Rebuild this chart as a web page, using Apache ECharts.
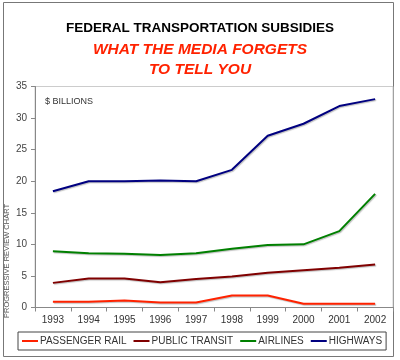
<!DOCTYPE html>
<html><head><meta charset="utf-8">
<script src="https://cdn.jsdelivr.net/npm/echarts@6/dist/echarts.min.js"></script>
<style>html,body{margin:0;padding:0;background:#fff}#c{width:400px;height:360px}</style>
</head><body><div id="c"></div>
<script>
const years = ['1993','1994','1995','1996','1997','1998','1999','2000','2001','2002'];
const passengerRail = [0.9,0.9,1.1,0.8,0.8,1.9,1.9,0.6,0.6,0.6];
const publicTransit = [3.9,4.6,4.6,4.0,4.5,4.9,5.5,5.9,6.3,6.8];
const airlines = [8.9,8.6,8.5,8.3,8.6,9.3,9.9,10.0,12.1,18.0];
const highways = [18.4,20.0,20.0,20.1,20.0,21.8,27.2,29.1,31.9,33.0];
const yTicks = [0,5,10,15,20,25,30,35];

const chart = echarts.init(document.getElementById('c'));
function ser(name, data, color){
  return {name, type:'line', data, symbol:'none', smooth:false,
    lineStyle:{color, width:2, shadowColor:'rgba(0,0,0,0.25)', shadowBlur:1, shadowOffsetX:1, shadowOffsetY:1},
    itemStyle:{color}};
}
chart.setOption({
  animation:false,
  backgroundColor:'#fff',
  title:[
    {text:'FEDERAL TRANSPORTATION SUBSIDIES', left:'center', top:16,
     textStyle:{fontFamily:'Liberation Sans', fontSize:13.5, fontWeight:'bold', color:'#000'}},
    {text:'WHAT THE MEDIA FORGETS\nTO TELL YOU', left:'center', top:35,
     textStyle:{fontFamily:'Liberation Sans', fontSize:15.5, fontWeight:'bold', fontStyle:'italic', color:'#ff2200', lineHeight:20}},
    {text:'$ BILLIONS', left:40, top:92,
     textStyle:{fontFamily:'Liberation Sans', fontSize:9, fontWeight:'normal', color:'#333'}}
  ],
  graphic:[
    {type:'rect', shape:{x:3.5,y:2.5,width:390,height:354}, style:{fill:'none', stroke:'#777', lineWidth:1}, z:-1},
    {type:'text', x:7, y:318, rotation:Math.PI/2,
     style:{text:'PROGRESSIVE REVIEW CHART', fill:'#555', font:'7.5px Liberation Sans', textAlign:'left', textVerticalAlign:'middle'}}
  ],
  legend:{
    data:['PASSENGER RAIL','PUBLIC TRANSIT','AIRLINES','HIGHWAYS'],
    left:18, top:332,
    itemWidth:16, itemHeight:2, itemGap:7,
    icon:'rect',
    borderColor:'#444', borderWidth:1, padding:[4,4,4,4],
    textStyle:{fontFamily:'Liberation Sans', fontSize:10, color:'#333', padding:[0,0,0,-3]}
  },
  grid:{left:35, right:7, top:86.5, bottom:52.5, show:true, borderColor:'#ccc', borderWidth:1},
  xAxis:{type:'category', data:years, boundaryGap:true,
    axisLine:{lineStyle:{color:'#888'}},
    axisTick:{show:true, lineStyle:{color:'#888'}, length:4},
    axisLabel:{fontFamily:'Liberation Sans', fontSize:10, color:'#333', margin:8},
    splitLine:{show:false}},
  yAxis:{type:'value', min:0, max:35, interval:5,
    axisLine:{show:true, lineStyle:{color:'#888'}},
    axisTick:{show:true, lineStyle:{color:'#888'}, length:4},
    axisLabel:{fontFamily:'Liberation Sans', fontSize:10, color:'#444', margin:8,
      formatter:v=>yTicks.includes(v)?String(v):''},
    splitLine:{show:false}},
  series:[
    ser('PASSENGER RAIL', passengerRail, '#ff2200'),
    ser('PUBLIC TRANSIT', publicTransit, '#800000'),
    ser('AIRLINES', airlines, '#008000'),
    ser('HIGHWAYS', highways, '#000080')
  ]
});
</script></body></html>
